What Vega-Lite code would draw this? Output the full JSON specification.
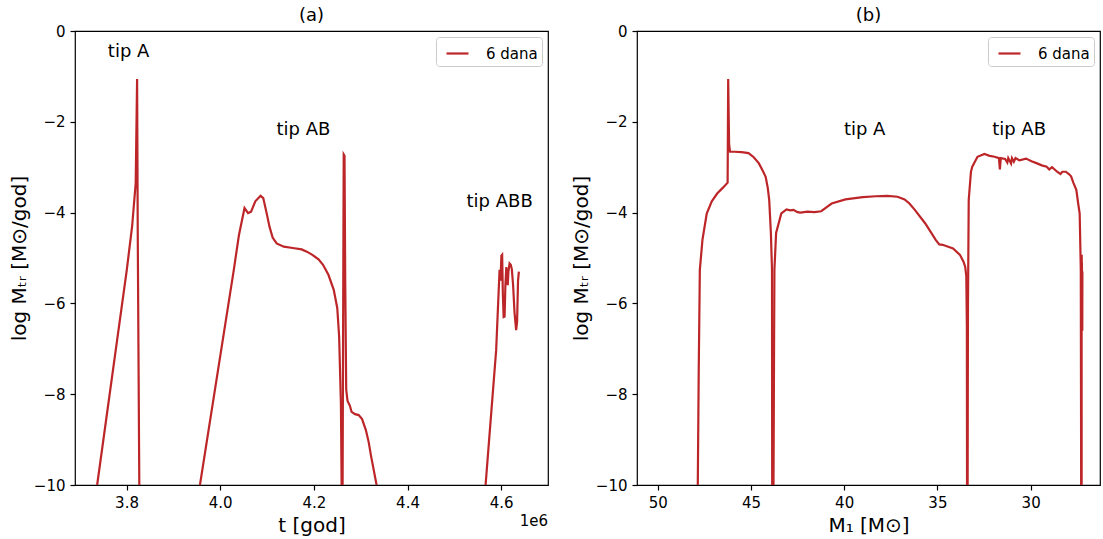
{
  "$schema": "https://vega.github.io/schema/vega-lite/v6.json",
  "background": "white",
  "padding": {"left": 8, "top": 6, "right": 0, "bottom": 0},
  "config": {
    "font": "DejaVu Sans",
    "view": {"stroke": "black", "strokeWidth": 1.2},
    "axis": {"domain": false, "grid": false, "tickColor": "black", "tickSize": 5, "tickWidth": 1.2, "labelFontSize": 15, "labelColor": "black", "labelPadding": 5, "titleFontSize": 20, "titleFontWeight": "normal", "titleColor": "black", "labelFont": "DejaVu Sans", "titleFont": "DejaVu Sans"},
    "title": {"fontSize": 18, "fontWeight": "normal", "offset": -1, "font": "DejaVu Sans", "color": "black"},
    "legend": {"orient": "top-right", "offset": 6, "padding": 4, "strokeColor": "#cccccc", "fillColor": "white", "cornerRadius": 3, "symbolType": "stroke", "symbolStrokeWidth": 2.2, "symbolSize": 484, "symbolOffset": 5, "labelFontSize": 15, "labelOffset": 16, "labelColor": "black", "labelFont": "DejaVu Sans"}
  },
  "datasets": {
    "a": [
      {"seg": 1, "t": 3737300, "y": -10}, {"seg": 1, "t": 3800600, "y": -5.26}, {"seg": 1, "t": 3812000, "y": -4.3}, {"seg": 1, "t": 3819600, "y": -3.35}, {"seg": 1, "t": 3822600, "y": -1.06}, {"seg": 1, "t": 3824000, "y": -4.5}, {"seg": 1, "t": 3827300, "y": -10},
      {"seg": 2, "t": 3956800, "y": -10}, {"seg": 2, "t": 4029100, "y": -5.26}, {"seg": 2, "t": 4040000, "y": -4.5}, {"seg": 2, "t": 4052000, "y": -3.9}, {"seg": 2, "t": 4059600, "y": -4.01}, {"seg": 2, "t": 4066000, "y": -3.98}, {"seg": 2, "t": 4075000, "y": -3.75}, {"seg": 2, "t": 4086300, "y": -3.63}, {"seg": 2, "t": 4092000, "y": -3.68}, {"seg": 2, "t": 4100000, "y": -4.05}, {"seg": 2, "t": 4105300, "y": -4.31}, {"seg": 2, "t": 4112000, "y": -4.55}, {"seg": 2, "t": 4120600, "y": -4.68}, {"seg": 2, "t": 4135800, "y": -4.75}, {"seg": 2, "t": 4155000, "y": -4.78}, {"seg": 2, "t": 4174000, "y": -4.81}, {"seg": 2, "t": 4185000, "y": -4.86}, {"seg": 2, "t": 4196800, "y": -4.93}, {"seg": 2, "t": 4210000, "y": -5.03}, {"seg": 2, "t": 4219600, "y": -5.15}, {"seg": 2, "t": 4231100, "y": -5.37}, {"seg": 2, "t": 4242500, "y": -5.7}, {"seg": 2, "t": 4250000, "y": -6.1}, {"seg": 2, "t": 4254000, "y": -6.73}, {"seg": 2, "t": 4257800, "y": -8.2}, {"seg": 2, "t": 4259300, "y": -10},
      {"seg": 3, "t": 4261400, "y": -10}, {"seg": 3, "t": 4263000, "y": -5}, {"seg": 3, "t": 4263800, "y": -2.72}, {"seg": 3, "t": 4265500, "y": -2.75}, {"seg": 3, "t": 4267000, "y": -5.5}, {"seg": 3, "t": 4269100, "y": -7.9}, {"seg": 3, "t": 4272000, "y": -8.15}, {"seg": 3, "t": 4276800, "y": -8.25}, {"seg": 3, "t": 4280600, "y": -8.39}, {"seg": 3, "t": 4288000, "y": -8.44}, {"seg": 3, "t": 4295800, "y": -8.46}, {"seg": 3, "t": 4303000, "y": -8.55}, {"seg": 3, "t": 4311100, "y": -8.79}, {"seg": 3, "t": 4317000, "y": -9.05}, {"seg": 3, "t": 4322500, "y": -9.38}, {"seg": 3, "t": 4334000, "y": -10},
      {"seg": 4, "t": 4566700, "y": -10}, {"seg": 4, "t": 4589300, "y": -7.03}, {"seg": 4, "t": 4596600, "y": -5.26}, {"seg": 4, "t": 4598500, "y": -5.5}, {"seg": 4, "t": 4600500, "y": -4.95}, {"seg": 4, "t": 4602100, "y": -4.93}, {"seg": 4, "t": 4603600, "y": -5.8}, {"seg": 4, "t": 4605300, "y": -6.3}, {"seg": 4, "t": 4607300, "y": -6.29}, {"seg": 4, "t": 4609000, "y": -5.6}, {"seg": 4, "t": 4611000, "y": -5.2}, {"seg": 4, "t": 4614000, "y": -5.6}, {"seg": 4, "t": 4615500, "y": -5.3}, {"seg": 4, "t": 4617900, "y": -5.12}, {"seg": 4, "t": 4620500, "y": -5.15}, {"seg": 4, "t": 4622800, "y": -5.25}, {"seg": 4, "t": 4625500, "y": -5.6}, {"seg": 4, "t": 4628500, "y": -6.2}, {"seg": 4, "t": 4632000, "y": -6.59}, {"seg": 4, "t": 4634000, "y": -6.4}, {"seg": 4, "t": 4636000, "y": -5.5}, {"seg": 4, "t": 4637800, "y": -5.3}
    ],
    "b": [
      {"seg": 1, "m": 47.85, "y": -10}, {"seg": 1, "m": 47.8, "y": -7.5}, {"seg": 1, "m": 47.74, "y": -5.26}, {"seg": 1, "m": 47.6, "y": -4.6}, {"seg": 1, "m": 47.37, "y": -4.02}, {"seg": 1, "m": 47.1, "y": -3.75}, {"seg": 1, "m": 46.81, "y": -3.58}, {"seg": 1, "m": 46.5, "y": -3.45}, {"seg": 1, "m": 46.25, "y": -3.34}, {"seg": 1, "m": 46.22, "y": -1.06}, {"seg": 1, "m": 46.17, "y": -2.5}, {"seg": 1, "m": 46.12, "y": -2.66}, {"seg": 1, "m": 45.88, "y": -2.66}, {"seg": 1, "m": 45.5, "y": -2.67}, {"seg": 1, "m": 45.13, "y": -2.69}, {"seg": 1, "m": 44.85, "y": -2.78}, {"seg": 1, "m": 44.58, "y": -2.91}, {"seg": 1, "m": 44.4, "y": -3.05}, {"seg": 1, "m": 44.21, "y": -3.21}, {"seg": 1, "m": 44.1, "y": -3.45}, {"seg": 1, "m": 44.02, "y": -3.72}, {"seg": 1, "m": 43.93, "y": -4.45}, {"seg": 1, "m": 43.87, "y": -5.26}, {"seg": 1, "m": 43.86, "y": -10},
      {"seg": 2, "m": 43.79, "y": -10}, {"seg": 2, "m": 43.76, "y": -7}, {"seg": 2, "m": 43.74, "y": -5.26}, {"seg": 2, "m": 43.65, "y": -4.45}, {"seg": 2, "m": 43.37, "y": -4.02}, {"seg": 2, "m": 43.09, "y": -3.93}, {"seg": 2, "m": 42.9, "y": -3.95}, {"seg": 2, "m": 42.72, "y": -3.94}, {"seg": 2, "m": 42.5, "y": -3.99}, {"seg": 2, "m": 42.34, "y": -4.0}, {"seg": 2, "m": 41.97, "y": -3.98}, {"seg": 2, "m": 41.6, "y": -3.99}, {"seg": 2, "m": 41.23, "y": -3.97}, {"seg": 2, "m": 40.9, "y": -3.87}, {"seg": 2, "m": 40.67, "y": -3.8}, {"seg": 2, "m": 39.93, "y": -3.71}, {"seg": 2, "m": 39.0, "y": -3.66}, {"seg": 2, "m": 38.3, "y": -3.64}, {"seg": 2, "m": 37.69, "y": -3.63}, {"seg": 2, "m": 37.14, "y": -3.65}, {"seg": 2, "m": 36.76, "y": -3.71}, {"seg": 2, "m": 36.5, "y": -3.8}, {"seg": 2, "m": 36.21, "y": -3.94}, {"seg": 2, "m": 35.65, "y": -4.24}, {"seg": 2, "m": 35.09, "y": -4.6}, {"seg": 2, "m": 34.9, "y": -4.7}, {"seg": 2, "m": 34.72, "y": -4.71}, {"seg": 2, "m": 34.16, "y": -4.79}, {"seg": 2, "m": 33.79, "y": -4.93}, {"seg": 2, "m": 33.6, "y": -5.08}, {"seg": 2, "m": 33.51, "y": -5.19}, {"seg": 2, "m": 33.45, "y": -5.4}, {"seg": 2, "m": 33.42, "y": -6.5}, {"seg": 2, "m": 33.41, "y": -10},
      {"seg": 3, "m": 33.38, "y": -10}, {"seg": 3, "m": 33.36, "y": -6}, {"seg": 3, "m": 33.32, "y": -3.72}, {"seg": 3, "m": 33.2, "y": -3.1}, {"seg": 3, "m": 33.13, "y": -2.99}, {"seg": 3, "m": 32.85, "y": -2.77}, {"seg": 3, "m": 32.48, "y": -2.71}, {"seg": 3, "m": 32.2, "y": -2.75}, {"seg": 3, "m": 31.93, "y": -2.77}, {"seg": 3, "m": 31.7, "y": -2.8}, {"seg": 3, "m": 31.65, "y": -3.05}, {"seg": 3, "m": 31.6, "y": -2.8}, {"seg": 3, "m": 31.37, "y": -2.82}, {"seg": 3, "m": 31.25, "y": -2.9}, {"seg": 3, "m": 31.2, "y": -2.8}, {"seg": 3, "m": 31.05, "y": -2.92}, {"seg": 3, "m": 31.0, "y": -2.8}, {"seg": 3, "m": 30.9, "y": -2.88}, {"seg": 3, "m": 30.81, "y": -2.8}, {"seg": 3, "m": 30.6, "y": -2.85}, {"seg": 3, "m": 30.25, "y": -2.81}, {"seg": 3, "m": 29.95, "y": -2.87}, {"seg": 3, "m": 29.69, "y": -2.91}, {"seg": 3, "m": 29.4, "y": -2.96}, {"seg": 3, "m": 29.14, "y": -2.99}, {"seg": 3, "m": 29.0, "y": -3.05}, {"seg": 3, "m": 28.85, "y": -3.0}, {"seg": 3, "m": 28.58, "y": -3.1}, {"seg": 3, "m": 28.4, "y": -3.15}, {"seg": 3, "m": 28.3, "y": -3.1}, {"seg": 3, "m": 28.11, "y": -3.1}, {"seg": 3, "m": 27.95, "y": -3.15}, {"seg": 3, "m": 27.83, "y": -3.2}, {"seg": 3, "m": 27.7, "y": -3.35}, {"seg": 3, "m": 27.55, "y": -3.5}, {"seg": 3, "m": 27.45, "y": -3.8}, {"seg": 3, "m": 27.37, "y": -4.02}, {"seg": 3, "m": 27.31, "y": -5.26}, {"seg": 3, "m": 27.29, "y": -10},
      {"seg": 4, "m": 27.27, "y": -10}, {"seg": 4, "m": 27.265, "y": -6}, {"seg": 4, "m": 27.26, "y": -4.93}, {"seg": 4, "m": 27.255, "y": -6.3}, {"seg": 4, "m": 27.25, "y": -5.1}, {"seg": 4, "m": 27.24, "y": -6.0}, {"seg": 4, "m": 27.235, "y": -5.3}, {"seg": 4, "m": 27.23, "y": -6.6}, {"seg": 4, "m": 27.225, "y": -5.3}
    ],
    "ta": [
      {"x": 3804500, "y": -0.46, "label": "tip A"},
      {"x": 4177800, "y": -2.18, "label": "tip AB"},
      {"x": 4596800, "y": -3.77, "label": "tip ABB"}
    ],
    "tb": [
      {"x": 38.9, "y": -2.18, "label": "tip A"},
      {"x": 30.62, "y": -2.18, "label": "tip AB"}
    ],
    "off": [
      {"x": 4700000, "y": -10, "label": "1e6"}
    ]
  },
  "bounds": "flush",
  "spacing": 89,
  "resolve": {"scale": {"color": "independent"}, "legend": {"color": "independent"}},
  "hconcat": [
    {
      "width": 473,
      "height": 454,
      "title": {"text": "(a)"},
      "layer": [
        {
          "data": {"name": "a"},
          "mark": {"type": "line", "strokeWidth": 2.2, "clip": true},
          "encoding": {
            "x": {"field": "t", "type": "quantitative", "scale": {"domain": [3690000, 4700000], "nice": false, "zero": false}, "axis": {"values": [3800000, 4000000, 4200000, 4400000, 4600000], "labelExpr": "format(datum.value/1e6,'.1f')", "title": "t [god]", "titlePadding": 5}},
            "y": {"field": "y", "type": "quantitative", "scale": {"domain": [-10, 0], "nice": false, "zero": false}, "axis": {"values": [-10, -8, -6, -4, -2, 0], "labelExpr": "replace(format(datum.value,'d'),'-','−')", "title": "log Mₜᵣ [M⊙/god]", "titlePadding": 4}},
            "color": {"datum": "6 dana", "scale": {"domain": ["6 dana"], "range": ["#bd2629"]}, "legend": {"title": null, "orient": "top-right"}},
            "detail": {"field": "seg"},
            "order": {"value": null}
          }
        },
        {
          "data": {"name": "ta"},
          "mark": {"type": "text", "fontSize": 18, "font": "DejaVu Sans", "color": "black"},
          "encoding": {"x": {"field": "x", "type": "quantitative"}, "y": {"field": "y", "type": "quantitative"}, "text": {"field": "label"}}
        },
        {
          "data": {"name": "off"},
          "mark": {"type": "text", "fontSize": 15, "font": "DejaVu Sans", "color": "black", "align": "right", "baseline": "alphabetic", "dy": 41},
          "encoding": {"x": {"field": "x", "type": "quantitative"}, "y": {"field": "y", "type": "quantitative"}, "text": {"field": "label"}}
        }
      ]
    },
    {
      "width": 463,
      "height": 454,
      "title": {"text": "(b)"},
      "layer": [
        {
          "data": {"name": "b"},
          "mark": {"type": "line", "strokeWidth": 2.2, "clip": true},
          "encoding": {
            "x": {"field": "m", "type": "quantitative", "scale": {"domain": [26.28, 51.11], "reverse": true, "nice": false, "zero": false}, "axis": {"values": [50, 45, 40, 35, 30], "format": "d", "title": "M₁ [M⊙]", "titlePadding": 5}},
            "y": {"field": "y", "type": "quantitative", "scale": {"domain": [-10, 0], "nice": false, "zero": false}, "axis": {"values": [-10, -8, -6, -4, -2, 0], "labelExpr": "replace(format(datum.value,'d'),'-','−')", "title": "log Mₜᵣ [M⊙/god]", "titlePadding": 4}},
            "color": {"datum": "6 dana", "scale": {"domain": ["6 dana"], "range": ["#bd2629"]}, "legend": {"title": null, "orient": "top-right"}},
            "detail": {"field": "seg"},
            "order": {"value": null}
          }
        },
        {
          "data": {"name": "tb"},
          "mark": {"type": "text", "fontSize": 18, "font": "DejaVu Sans", "color": "black"},
          "encoding": {"x": {"field": "x", "type": "quantitative"}, "y": {"field": "y", "type": "quantitative"}, "text": {"field": "label"}}
        }
      ]
    }
  ]
}
